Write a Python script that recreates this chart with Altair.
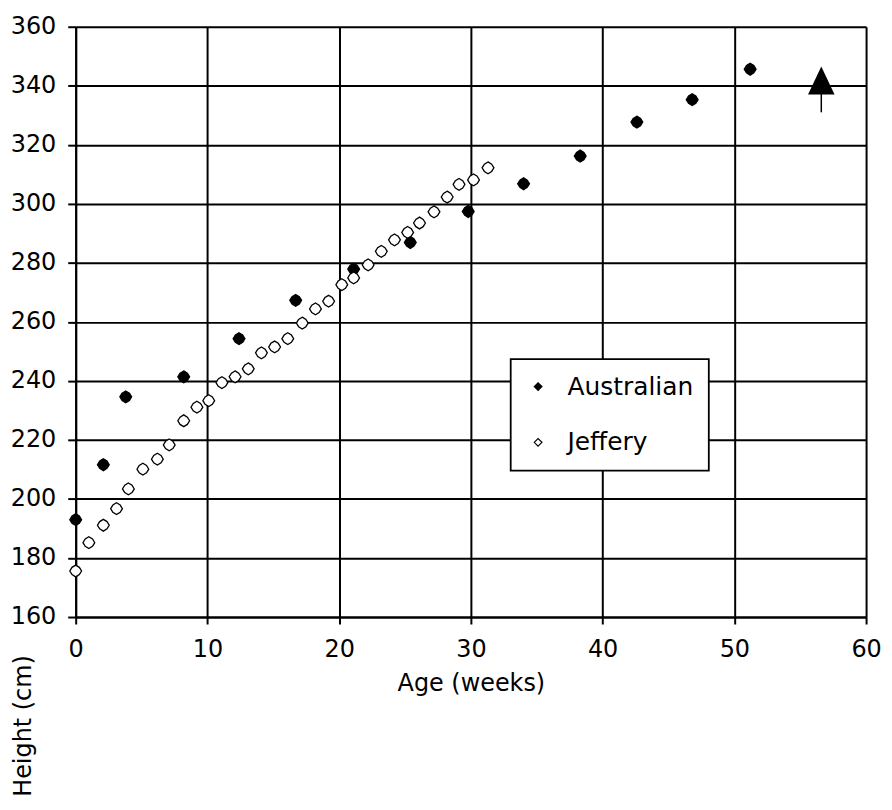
import altair as alt
import pandas as pd

# Australian series (age in weeks, height in cm)
aus_x = [0, 2.1, 3.8, 8.2, 12.4, 16.7, 21.1, 25.4, 29.8, 34.0, 38.3, 42.6, 46.8, 51.2]
aus_y = [193.0, 211.6, 234.6, 241.4, 254.3, 267.3, 277.9, 286.9, 297.4, 306.8, 316.2, 327.7, 335.3, 345.6]

# Jeffery series
jef_x = [0, 1, 2.1, 3.1, 4, 5.1, 6.2, 7.1, 8.2, 9.2, 10.1, 11.1, 12.1, 13.1, 14.1, 15.1,
         16.1, 17.2, 18.2, 19.2, 20.2, 21.1, 22.2, 23.2, 24.2, 25.2, 26.1, 27.2, 28.2, 29.1, 30.2, 31.3]
jef_y = [175.6, 185.2, 191.1, 196.7, 203.4, 210.1, 213.5, 218.3, 226.5, 231.1, 233.3, 239.4,
         241.4, 244.1, 249.5, 251.5, 254.3, 259.6, 264.4, 267.0, 272.6, 274.9, 279.3, 283.9,
         287.8, 290.3, 293.5, 297.3, 302.3, 306.6, 308.1, 312.2]

series_names = ["Australian", "Jeffery"]
x_ticks = [0, 10, 20, 30, 40, 50, 60]
y_ticks = [160, 180, 200, 220, 240, 260, 280, 300, 320, 340, 360]

# arrow annotation (pointing up)
arrow_x = [56.6]
arrow_head_y = [341.8]
arrow_stem_top = [337.5]
arrow_stem_bottom = [331.0]

df = pd.DataFrame({
    "age": aus_x + jef_x,
    "height": aus_y + jef_y,
    "series": [series_names[0]] * len(aus_x) + [series_names[1]] * len(jef_x),
})
arrow_df = pd.DataFrame({"x": arrow_x, "y": arrow_head_y, "y1": arrow_stem_top, "y2": arrow_stem_bottom})

FONT = "DejaVu Sans"
marker_path = "M0,-1L0.62,-0.62L1,0L0.62,0.62L0,1L-0.62,0.62L-1,0L-0.62,-0.62Z"
tri_path = "M0,-1L0.95,1L-0.95,1Z"

x_enc = alt.X(
    "age:Q",
    scale=alt.Scale(domain=[0, 60], nice=False),
    axis=alt.Axis(values=x_ticks, title="Age (weeks)", titleY=67, titleBaseline="middle",
                  labelPadding=14, tickSize=7, labelFlush=False),
)
y_enc = alt.Y(
    "height:Q",
    scale=alt.Scale(domain=[160, 360], nice=False, zero=False),
    axis=alt.Axis(values=y_ticks, title="Height (cm)", titleX=-52, titleY=702, titleAngle=270,
                  titleAlign="center", titleBaseline="middle", labelPadding=12, tickSize=8,
                  labelFlush=False),
)

points = alt.Chart(df).mark_point(
    shape=marker_path, filled=True, size=140, stroke="black", strokeWidth=1.3, opacity=1
).encode(
    x=x_enc,
    y=y_enc,
    fill=alt.Fill(
        "series:N",
        scale=alt.Scale(domain=series_names, range=["black", "white"]),
        legend=alt.Legend(
            orient="none", legendX=437, legendY=334, title=None,
            labelFontSize=25, labelFont=FONT, labelColor="black",
            symbolSize=60, symbolOffset=0, labelOffset=17, rowPadding=30, padding=15,
            strokeColor="black", fillColor="white",
            symbolStrokeColor="black", symbolStrokeWidth=1.2, symbolType="diamond",
        ),
    ),
)

arrow_head = alt.Chart(arrow_df).mark_point(
    shape=tri_path, filled=True, size=784, color="black", opacity=1
).encode(x="x:Q", y="y:Q")

arrow_stem = alt.Chart(arrow_df).mark_rule(color="black", strokeWidth=1.5).encode(
    x="x:Q", y="y1:Q", y2="y2:Q"
)

chart = alt.layer(points, arrow_stem, arrow_head).properties(
    width=794,
    height=593,
    autosize=alt.AutoSizeParams(type="none"),
    padding={"left": 68, "top": 17, "right": 18, "bottom": 184},
    background="white",
).configure_view(
    strokeWidth=0
).configure_axis(
    grid=True, gridColor="black", gridOpacity=1, gridWidth=2,
    domainColor="black", domainWidth=2, tickColor="black", tickWidth=2,
    labelFont=FONT, labelFontSize=24, labelColor="black",
    titleFont=FONT, titleFontSize=24, titleFontWeight="normal", titleColor="black",
).configure_legend(
    strokeWidth=1.8
)

chart.save("out.html", embed_options={"renderer": "svg", "actions": False})
